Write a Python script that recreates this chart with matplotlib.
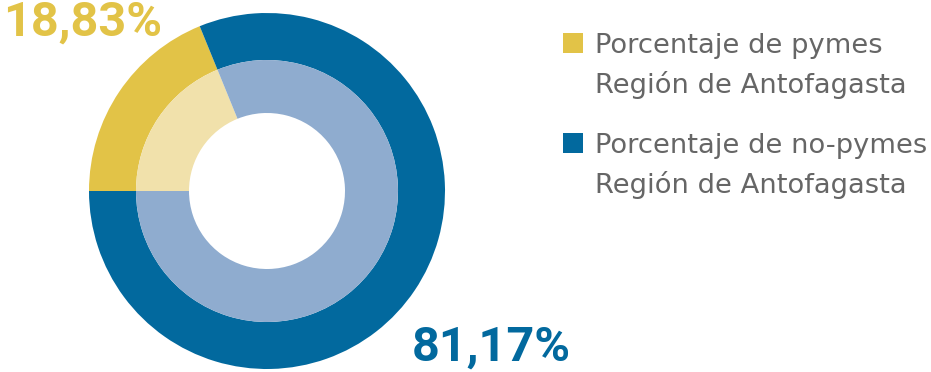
import matplotlib
matplotlib.use("Agg")
import matplotlib.pyplot as plt
from matplotlib.patches import Rectangle

categories = ["Porcentaje de pymes\nRegión de Antofagasta", "Porcentaje de no-pymes\nRegión de Antofagasta"]
values = [18.83, 81.17]
labels = ["18,83%", "81,17%"]
outer_colors = ["#E2C347", "#02699E"]
inner_colors = ["#F1E1AB", "#8FACCF"]

W, H = 931, 372
fig = plt.figure(figsize=(W / 100, H / 100), dpi=100)
cx, cy, R = 267, 372 - 191, 178
ax = fig.add_axes([(cx - R) / W, (cy - R) / H, 2 * R / W, 2 * R / H])
ax.pie(values, radius=1.0, colors=outer_colors, startangle=180, counterclock=False,
       wedgeprops=dict(width=47 / R, linewidth=0))
ax.pie(values, radius=131 / R, colors=inner_colors, startangle=180, counterclock=False,
       wedgeprops=dict(width=(131 - 78) / R, linewidth=0))
ax.set_xlim(-1, 1)
ax.set_ylim(-1, 1)
ax.set_aspect("equal")
ax.axis("off")

numfont = "Roboto"
fig.text(3 / W, 1 - 36 / H, labels[0], color=outer_colors[0], fontsize=35, fontweight="bold",
         family=numfont, ha="left", va="baseline")
fig.text(412 / W, 1 - 361 / H, labels[1], color=outer_colors[1], fontsize=35, fontweight="bold",
         family=numfont, ha="left", va="baseline")

# legend
legfont = "DejaVu Sans"
ys = [33, 133]
for cat, col, y in zip(categories, outer_colors, ys):
    fig.patches.append(Rectangle((563 / W, 1 - (y + 20) / H), 20 / W, 20 / H,
                                 transform=fig.transFigure, color=col, linewidth=0))
    l1, l2 = cat.split("\n")
    fig.text(595 / W, 1 - (y + 20) / H, l1, color="#666666", fontsize=19.7, family=legfont,
             ha="left", va="baseline")
    fig.text(595 / W, 1 - (y + 60) / H, l2, color="#666666", fontsize=19.7, family=legfont,
             ha="left", va="baseline")

fig.savefig("out.png", dpi=100, facecolor="white")
